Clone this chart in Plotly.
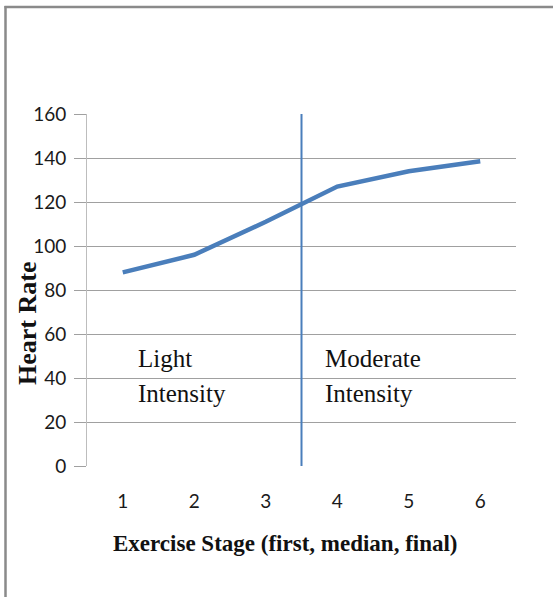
import plotly.graph_objects as go

stages = [1, 2, 3, 4, 5, 6]
heart_rate = [88, 96, 111, 127, 134, 138.5]
y_ticks = [0, 20, 40, 60, 80, 100, 120, 140, 160]
divider_stage = 3.5
zone_line1 = ["Light", "Moderate"]
zone_line2 = ["Intensity", "Intensity"]
zone_x = [1.19, 3.80]
zone_y1 = 49
zone_y2 = 33

W, H = 553, 597
L, R, T, B = 87, 37, 114, 131
pw, ph = W - L - R, H - T - B

def px_x(px):
    return (px - L) / pw

def px_y(py):
    return (H - B - py) / ph

blue = "#4A7EBB"
fig = go.Figure()
fig.add_trace(go.Scatter(x=stages, y=heart_rate, mode="lines",
                         line=dict(color=blue, width=4.5), showlegend=False))

fig.add_shape(type="line", xref="x", yref="y", x0=divider_stage, x1=divider_stage,
              y0=y_ticks[0], y1=y_ticks[-1], line=dict(color=blue, width=2))

# outer border (left and top only visible)
fig.add_shape(type="line", xref="paper", yref="paper",
              x0=px_x(5.5), x1=px_x(5.5), y0=px_y(6), y1=px_y(600),
              line=dict(color="#8a8a8a", width=2.5))
fig.add_shape(type="line", xref="paper", yref="paper",
              x0=px_x(4.5), x1=px_x(560), y0=px_y(7), y1=px_y(7),
              line=dict(color="#8a8a8a", width=2.5))

zone_font = dict(family="Liberation Serif", size=25, color="#111")
for t1, t2, xv in zip(zone_line1, zone_line2, zone_x):
    fig.add_annotation(x=xv, y=zone_y1, xref="x", yref="y", text=t1, showarrow=False,
                       xanchor="left", yanchor="middle", font=zone_font)
    fig.add_annotation(x=xv, y=zone_y2, xref="x", yref="y", text=t2, showarrow=False,
                       xanchor="left", yanchor="middle", font=zone_font)

fig.add_annotation(x=px_x(27), y=px_y(323), xref="paper", yref="paper",
                   xanchor="center", yanchor="middle",
                   text="<b>Heart Rate</b>", textangle=-90, showarrow=False,
                   font=dict(family="Liberation Serif", size=26, color="#111"))
fig.add_annotation(x=px_x(285), y=px_y(543), xref="paper", yref="paper",
                   xanchor="center", yanchor="middle",
                   text="<b>Exercise Stage (first, median, final)</b>", showarrow=False,
                   font=dict(family="Liberation Serif", size=23, color="#111"))

fig.update_layout(
    width=W, height=H, margin=dict(l=L, r=R, t=T, b=B),
    paper_bgcolor="white", plot_bgcolor="white",
    xaxis=dict(range=[0.5, 6.5], tickvals=stages, ticktext=[str(s) for s in stages],
               showgrid=False, zeroline=False, showline=False, ticks="",
               ticklabelstandoff=22,
               tickfont=dict(family="Lato", size=19, color="#1a1a1a")),
    yaxis=dict(range=[0, 160], tickvals=y_ticks, showgrid=True, gridcolor="#a0a0a0",
               gridwidth=1, zeroline=False, showline=True, linecolor="#bdbdbd",
               ticks="outside", ticklen=12, tickcolor="#a0a0a0",
               ticklabelstandoff=4,
               tickfont=dict(family="Lato", size=19, color="#1a1a1a")),
)

fig.write_html("out.html", config={"displayModeBar": False},
               post_script="document.body.style.margin='0';")
